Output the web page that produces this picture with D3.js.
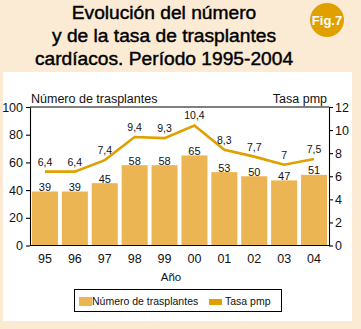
<!DOCTYPE html>
<html>
<head>
<meta charset="utf-8">
<script src="https://cdn.jsdelivr.net/npm/d3@7"></script>
<style>
  body { margin: 0; background: #fbebd5; }
  svg { display: block; font-family: "Liberation Sans", Arial, sans-serif; }
</style>
</head>
<body>
<div id="chart"></div>
<script>
// Datos
const years = ['95', '96', '97', '98', '99', '00', '01', '02', '03', '04']
const trasplantes = [39, 39, 45, 58, 58, 65, 53, 50, 47, 51]
const tasa = [6.4, 6.4, 7.4, 9.4, 9.3, 10.4, 8.3, 7.7, 7, 7.5]
const leftTicks = [0, 20, 40, 60, 80, 100]
const rightTicks = [0, 2, 4, 6, 8, 10, 12]
const titleLines = ['Evolución del número', 'y de la tasa de trasplantes', 'cardíacos. Período 1995-2004']

const W = 361, H = 329
const barColor = '#ebb553', lineColor = '#dfa000'

const svg = d3.select('#chart').append('svg')
    .attr('width', W)
    .attr('height', H)

svg.append('rect').attr('width', W).attr('height', H).attr('fill', '#fbebd5')

// titulo
svg.append('g').selectAll('text')
    .data(titleLines)
    .enter()
    .append('text')
    .attr('x', 164)
    .attr('y', (d, i) => 19 + i * 23)
    .attr('text-anchor', 'middle')
    .attr('font-size', 19.2)
    .attr('fill', '#000')
    .attr('stroke', '#000')
    .attr('stroke-width', 0.45)
    .text(d => d)

// Fig.7
svg.append('circle').attr('cx', 327).attr('cy', 20).attr('r', 17).attr('fill', lineColor)
svg.append('text').attr('x', 327).attr('y', 25).attr('text-anchor', 'middle')
    .attr('font-size', 13).attr('font-weight', 'bold').attr('fill', '#fff').text('Fig.7')

// panel blanco
svg.append('rect').attr('x', 3).attr('y', 72).attr('width', 349).attr('height', 249).attr('fill', '#fff')

const margin = { left: 30, right: 329, top: 107, bottom: 245.5 }

const x = d3.scaleBand()
    .domain(years)
    .range([margin.left, margin.right])
    .paddingInner(0.13)
    .paddingOuter(0.065)

const yL = d3.scaleLinear().domain([0, 100]).range([margin.bottom, margin.top])
const yR = d3.scaleLinear().domain([0, 12]).range([margin.bottom, margin.top])

// barras
svg.append('g')
    .selectAll('rect')
    .data(trasplantes)
    .enter()
    .append('rect')
    .attr('x', (d, i) => x(years[i]))
    .attr('y', d => yL(d))
    .attr('width', x.bandwidth())
    .attr('height', d => yL(0) - yL(d))
    .attr('fill', barColor)

svg.append('g')
    .selectAll('text')
    .data(trasplantes)
    .enter()
    .append('text')
    .attr('x', (d, i) => x(years[i]) + x.bandwidth() / 2)
    .attr('y', d => yL(d) - 0.5)
    .attr('text-anchor', 'middle')
    .attr('font-size', 11)
    .attr('fill', '#111')
    .text(d => d)

// linea tasa
const line = d3.line()
    .x((d, i) => x(years[i]) + x.bandwidth() / 2)
    .y(d => yR(d))

svg.append('path')
    .datum(tasa)
    .attr('d', line)
    .attr('fill', 'none')
    .attr('stroke', lineColor)
    .attr('stroke-width', 2.6)

svg.append('g')
    .selectAll('text')
    .data(tasa)
    .enter()
    .append('text')
    .attr('x', (d, i) => x(years[i]) + x.bandwidth() / 2)
    .attr('y', d => yR(d) - 6)
    .attr('text-anchor', 'middle')
    .attr('font-size', 10.5)
    .attr('fill', '#111')
    .text(d => String(d).replace('.', ','))

// ejes
const axisL = svg.append('g')
    .attr('transform', 'translate(' + margin.left + ',0)')
    .call(d3.axisLeft(yL).tickValues(leftTicks).tickSize(4).tickSizeOuter(0).tickPadding(3))
const axisR = svg.append('g')
    .attr('transform', 'translate(' + margin.right + ',0)')
    .call(d3.axisRight(yR).tickValues(rightTicks).tickSize(4).tickSizeOuter(0).tickPadding(2))
const axisB = svg.append('g')
    .attr('transform', 'translate(0,' + margin.bottom + ')')
    .call(d3.axisBottom(x).tickSize(0).tickSizeOuter(0).tickPadding(9))

for (let ax of [axisL, axisR, axisB]) {
    ax.selectAll('text').attr('font-size', 12.5).attr('fill', '#111').attr('font-family', null)
    ax.selectAll('line, path').attr('stroke', '#000').attr('stroke-width', 1.1)
}
axisB.select('.domain').attr('d', 'M' + margin.left + ',0H' + margin.right)

// linea superior
svg.append('line')
    .attr('x1', margin.left).attr('x2', margin.right)
    .attr('y1', margin.top).attr('y2', margin.top)
    .attr('stroke', '#000').attr('stroke-width', 1.1)

// titulos de ejes
svg.append('text').attr('x', 31).attr('y', 103).attr('font-size', 12.5).attr('fill', '#111').text('Número de trasplantes')
svg.append('text').attr('x', 327).attr('y', 103).attr('text-anchor', 'end').attr('font-size', 12.5).attr('fill', '#111').text('Tasa pmp')
svg.append('text').attr('x', 171).attr('y', 281).attr('text-anchor', 'middle').attr('font-size', 11.5).attr('fill', '#111').text('Año')

// leyenda
const leg = svg.append('g')
leg.append('rect').attr('x', 74.5).attr('y', 289.5).attr('width', 207).attr('height', 22)
    .attr('fill', '#fff').attr('stroke', '#000').attr('stroke-width', 1)
leg.append('rect').attr('x', 79).attr('y', 297).attr('width', 13).attr('height', 9).attr('fill', barColor)
leg.append('text').attr('x', 92).attr('y', 305).attr('font-size', 10.5).attr('fill', '#111').text('Número de trasplantes')
leg.append('rect').attr('x', 209).attr('y', 299).attr('width', 13).attr('height', 6).attr('fill', lineColor)
leg.append('text').attr('x', 225).attr('y', 305).attr('font-size', 10.5).attr('fill', '#111').text('Tasa pmp')
</script>
</body>
</html>
